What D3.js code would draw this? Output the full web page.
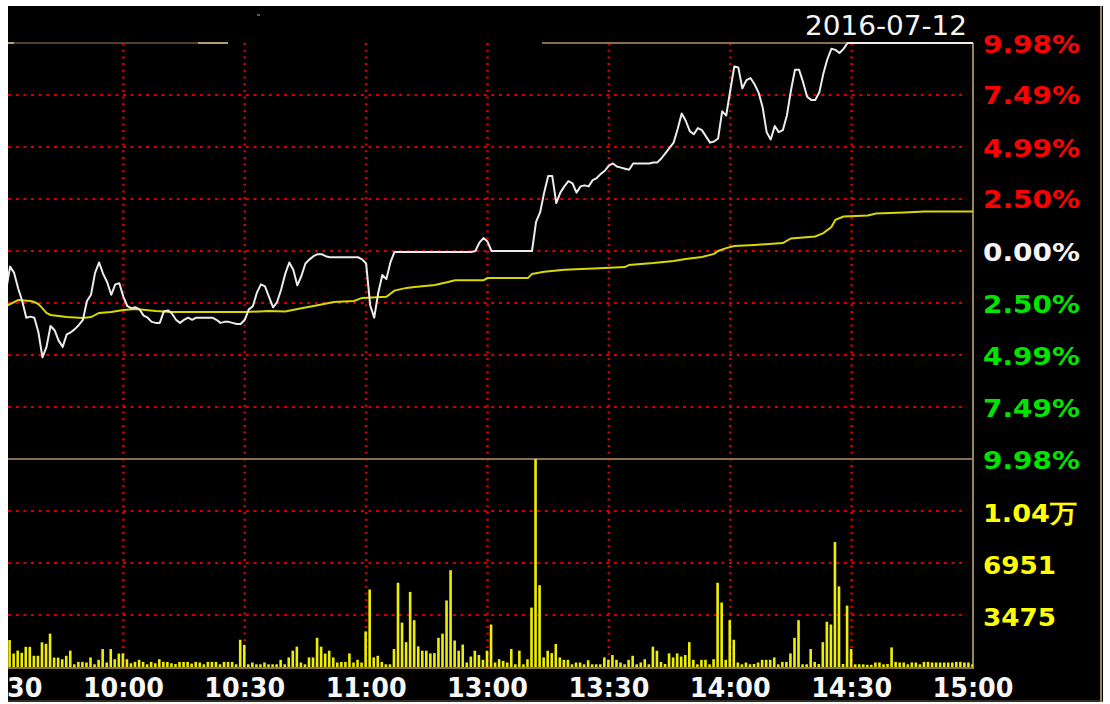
<!DOCTYPE html>
<html>
<head>
<meta charset="utf-8">
<script src="https://cdn.jsdelivr.net/npm/d3@7"></script>
<style>
  body { margin: 0; background: #fff; }
  text { font-family: "DejaVu Sans", Verdana, sans-serif; }
</style>
</head>
<body>
<script>
// intraday chart, 2016-07-12
const W = 1110, H = 704;

const dateLabel = '2016-07-12';
const timeTicks = [0, 30, 60, 90, 120, 150, 180, 210, 240];
const timeLabels = ['09:30', '10:00', '10:30', '11:00', '13:00', '13:30', '14:00', '14:30', '15:00'];
const priceTicks = [9.98, 7.49, 4.99, 2.50, 0, -2.50, -4.99, -7.49, -9.98];
const volTicks = [10426, 6951, 3475];
const volLabels = ['1.04万', '6951', '3475'];
const volMax = 13902;

// price line, % change vs. previous close, at minute index
const priceMin = [0, 1, 2, 3, 4, 5, 6, 7, 8, 9, 10, 11, 12, 13, 14, 15, 16, 17, 18, 19, 20, 21, 22, 23, 24, 25, 26, 27, 28, 29,
  30, 31, 32, 33, 34, 35, 36, 37, 38, 39, 40, 41, 42, 43, 44, 45, 46, 47, 48, 52, 53, 54, 55, 56, 57, 58, 59,
  60, 61, 62, 63, 64, 65, 66, 67, 68, 69, 70, 71, 72, 73, 74, 75, 76, 77, 78, 79, 80, 81, 88, 89,
  90, 91, 92, 93, 94, 95, 96, 97, 116, 117, 118, 119, 120, 121, 131, 132, 133, 134, 135, 136, 137, 138, 139,
  140, 141, 142, 143, 144, 145, 146, 147, 148, 149, 150, 151, 152, 153, 154, 155, 156, 160, 161, 162, 163, 164, 165, 166, 167, 168, 169,
  170, 171, 172, 173, 174, 175, 176, 177, 178, 179, 180, 181, 182, 183, 184, 185, 186, 187, 188, 189,
  190, 191, 192, 193, 194, 195, 196, 197, 198, 199, 200, 201, 202, 203, 204, 205, 206, 207, 208, 209, 240];
const pricePct = [-1.6, -1.9, -0.75, -1.05, -1.8, -2.4, -3.2, -3.15, -3.2, -3.9, -5.1, -4.6, -3.6, -3.8, -4.3, -4.6, -4.0, -3.9, -3.75, -3.55, -3.3, -2.4, -2.1, -1.05, -0.55, -1.1, -1.5, -2.1, -1.6, -1.55,
  -2.2, -2.65, -2.75, -2.7, -2.8, -3.1, -3.2, -3.4, -3.45, -3.45, -2.9, -2.85, -3.0, -3.3, -3.45, -3.3, -3.2, -3.3, -3.2, -3.2, -3.3, -3.45, -3.4, -3.4, -3.45, -3.5, -3.5,
  -3.3, -2.8, -2.65, -2.0, -1.6, -1.7, -2.2, -2.7, -2.45, -1.85, -1.1, -0.55, -0.9, -1.65, -1.2, -0.6, -0.4, -0.25, -0.15, -0.15, -0.25, -0.3, -0.3, -0.4,
  -0.6, -2.6, -3.2, -2.0, -1.15, -1.35, -0.55, -0.05, -0.05, 0.0, 0.4, 0.62, 0.45, 0.0, 0.0, 1.4, 1.85, 2.8, 3.6, 3.6, 2.3, 2.8, 3.1,
  3.35, 3.25, 2.8, 3.1, 3.15, 3.1, 3.4, 3.5, 3.7, 3.85, 4.1, 4.2, 4.05, 4.0, 3.95, 3.9, 4.2, 4.2, 4.25, 4.25, 4.45, 4.7, 4.95, 5.2, 5.85, 6.6, 6.25,
  5.75, 5.6, 5.9, 5.8, 5.5, 5.2, 5.25, 5.4, 6.7, 6.5, 7.7, 8.85, 8.8, 7.8, 8.2, 8.3, 8.0, 7.6, 6.9, 5.7,
  5.35, 6.0, 5.7, 5.8, 6.5, 7.7, 8.7, 8.7, 8.1, 7.4, 7.25, 7.25, 7.6, 8.5, 9.2, 9.7, 9.65, 9.5, 9.7, 9.98, 9.98];

// average price line
const avgMin = [0, 1, 3, 4, 7, 8, 9, 10, 11, 12, 14, 16, 20, 22, 24, 27, 30, 33, 38, 42, 60, 66, 70, 74, 78, 82, 87, 89,
  95, 97, 100, 102, 107, 110, 112, 119, 120, 130, 131, 134, 139, 149, 154, 155, 161, 166, 169, 173, 176, 177, 179,
  181, 186, 193, 195, 201, 203, 205, 206, 208, 214, 216, 223, 228, 240];
const avgPct = [-2.75, -2.65, -2.45, -2.35, -2.4, -2.45, -2.55, -2.75, -2.97, -3.07, -3.12, -3.17, -3.22, -3.17, -2.97, -2.93, -2.83, -2.78, -2.88, -2.93, -2.93, -2.88, -2.9, -2.75, -2.6, -2.45, -2.4, -2.25,
  -2.2, -1.9, -1.77, -1.73, -1.63, -1.5, -1.4, -1.4, -1.3, -1.3, -1.1, -1.0, -0.9, -0.82, -0.77, -0.67, -0.58, -0.48, -0.38, -0.29, -0.14, 0.0, 0.14,
  0.24, 0.29, 0.38, 0.6, 0.7, 0.86, 1.15, 1.5, 1.65, 1.7, 1.8, 1.85, 1.9, 1.9];

// volume per minute (shares), minute 0..240
const volume = [1500, 1100, 1800, 900, 1100, 950, 1350, 1350, 750, 750, 1650, 1550, 2230, 630, 630, 520, 750, 1090, 180, 340,
  340, 300, 640, 180, 480, 1200, 300, 1200, 520, 900, 900, 520, 250, 340, 480, 340, 180, 340, 250, 520,
  340, 340, 250, 200, 340, 340, 340, 230, 340, 300, 180, 340, 340, 340, 180, 340, 340, 340, 180, 1820,
  1480, 180, 300, 180, 180, 300, 180, 180, 180, 480, 180, 640, 1090, 1360, 300, 180, 640, 640, 1950, 1360,
  900, 1090, 640, 300, 340, 340, 910, 300, 480, 300, 2380, 5180, 640, 750, 340, 180, 180, 1200, 5630, 2970,
  1660, 5020, 3130, 1380, 1090, 1090, 910, 930, 1950, 2230, 4450, 6470, 1770, 1090, 1500, 300, 700, 1090, 800, 480,
  1090, 2840, 300, 520, 410, 300, 1200, 180, 1090, 180, 520, 3970, 13900, 5470, 640, 1090, 930, 1540, 640, 480,
  480, 180, 300, 300, 180, 450, 180, 180, 180, 640, 480, 800, 480, 300, 180, 480, 750, 180, 300, 520,
  180, 1360, 1090, 340, 200, 910, 640, 910, 700, 800, 1660, 480, 180, 480, 480, 180, 520, 5630, 4310, 480,
  3130, 1820, 300, 180, 300, 180, 200, 300, 480, 480, 480, 640, 180, 340, 340, 910, 1950, 3130, 180, 180,
  1200, 340, 200, 1660, 3020, 2840, 8350, 5390, 200, 4100, 1200, 180, 180, 180, 150, 150, 300, 300, 180, 200,
  1310, 340, 300, 300, 180, 300, 300, 180, 340, 340, 300, 300, 300, 300, 300, 300, 340, 340, 300, 300, 180];

// plot frame
const pL = 8, pR = 973, pT = 43, pM = 459, pB = 667;
const brown = '#84704f';

const x = d3.scaleLinear().domain([0, 240]).range([2, pR]);
const yP = d3.scaleLinear().domain([-9.98, 9.98]).range([pM, pT]);
const yV = d3.scaleLinear().domain([0, volMax]).range([pB, pM]);

const svg = d3.select('body').append('svg').attr('width', W).attr('height', H);

svg.append('rect').attr('width', W).attr('height', H).attr('fill', '#fff');
svg.append('rect').attr('x', 8).attr('y', 6).attr('width', 1095).attr('height', 696).attr('fill', '#000');

svg.append('clipPath').attr('id', 'plot')
  .append('rect').attr('x', pL).attr('y', 38).attr('width', pR - pL).attr('height', pB - 38 + 2);

// grid
const grid = svg.append('g').attr('clip-path', 'url(#plot)');
grid.selectAll('.vg')
  .data(timeTicks.slice(1, -1))
  .join('line')
  .attr('x1', d => x(d)).attr('x2', d => x(d))
  .attr('y1', pT).attr('y2', pB)
  .attr('stroke', '#d40000').attr('stroke-width', 2.6)
  .attr('stroke-dasharray', '2 4.7');

grid.selectAll('.hg')
  .data(priceTicks.filter(d => Math.abs(d) < 9.9))
  .join('line')
  .attr('x1', pL).attr('x2', pR - 6)
  .attr('y1', d => yP(d)).attr('y2', d => yP(d))
  .attr('stroke', '#d40000').attr('stroke-width', 2)
  .attr('stroke-dasharray', '3 4.67');

grid.selectAll('.vhg')
  .data(volTicks)
  .join('line')
  .attr('x1', pL).attr('x2', pR - 6)
  .attr('y1', d => yV(d)).attr('y2', d => yV(d))
  .attr('stroke', '#d40000').attr('stroke-width', 2)
  .attr('stroke-dasharray', '3 4.67');

// frame lines
const frame = svg.append('g').attr('stroke', brown).attr('stroke-width', 2);
frame.append('line').attr('x1', pL).attr('x2', 228).attr('y1', pT).attr('y2', pT).attr('stroke', '#4d4030');
frame.append('line').attr('x1', 198).attr('x2', 228).attr('y1', pT).attr('y2', pT).attr('stroke', '#b49e7a');
frame.append('line').attr('x1', pL).attr('x2', 14).attr('y1', pT).attr('y2', pT).attr('stroke', '#b49e7a');
frame.append('line').attr('x1', 542).attr('x2', pR).attr('y1', pT).attr('y2', pT);
frame.append('line').attr('x1', pL).attr('x2', pR).attr('y1', pM).attr('y2', pM);
frame.append('line').attr('x1', pL).attr('x2', pR).attr('y1', pB + 1).attr('y2', pB + 1);
frame.append('line').attr('x1', pR).attr('x2', pR).attr('y1', pT).attr('y2', pB + 2).attr('stroke', '#98845f');
frame.append('line').attr('x1', 1101).attr('x2', 1101).attr('y1', 6).attr('y2', 702).attr('stroke', '#98845f');
frame.append('line').attr('x1', pL).attr('x2', 1103).attr('y1', 701).attr('y2', 701).attr('stroke', '#6b5c45').attr('stroke-width', 1);
svg.append('rect').attr('x', 257).attr('y', 14).attr('width', 3).attr('height', 2).attr('fill', '#6b5437');

const plot = svg.append('g').attr('clip-path', 'url(#plot)');

// volume bars
plot.selectAll('.bar')
  .data(volume)
  .join('rect')
  .attr('x', (d, i) => x(i) - 1.8)
  .attr('width', 2.6)
  .attr('y', d => yV(d))
  .attr('height', d => pB - yV(d))
  .attr('fill', '#eeee00');

// average line
const avgData = avgMin.map((m, i) => [m, avgPct[i]]);
plot.append('path')
  .datum(avgData)
  .attr('fill', 'none')
  .attr('stroke', '#d8d800')
  .attr('stroke-width', 2)
  .attr('d', d3.line().x(d => x(d[0])).y(d => yP(d[1])));

// price line
const priceData = priceMin.map((m, i) => [m, pricePct[i]]);
plot.append('path')
  .datum(priceData)
  .attr('fill', 'none')
  .attr('stroke', '#ececec')
  .attr('stroke-width', 2)
  .attr('stroke-linejoin', 'round')
  .attr('d', d3.line().x(d => x(d[0])).y(d => yP(d[1])));

// right labels
svg.selectAll('.plab')
  .data(priceTicks)
  .join('text')
  .attr('x', 983)
  .attr('y', d => yP(d) + 9.5)
  .attr('font-size', 25)
  .attr('font-weight', 'bold')
  .attr('textLength', 97)
  .attr('lengthAdjust', 'spacingAndGlyphs')
  .attr('fill', d => d > 0 ? '#ff0000' : d < 0 ? '#00e400' : '#f4f4f4')
  .text(d => Math.abs(d).toFixed(2) + '%');

svg.selectAll('.vlab')
  .data(volTicks)
  .join('text')
  .attr('x', 983)
  .attr('y', d => yV(d) + 11)
  .attr('font-size', 25)
  .attr('font-weight', 'bold')
  .attr('textLength', (d, i) => i === 0 ? 94 : 73)
  .attr('lengthAdjust', 'spacingAndGlyphs')
  .attr('fill', '#ffff00')
  .text((d, i) => volLabels[i]);

// time labels
const tclip = svg.append('clipPath').attr('id', 'tclip');
tclip.append('rect').attr('x', pL).attr('y', 670).attr('width', 1090).attr('height', 34);
svg.append('g').attr('clip-path', 'url(#tclip)')
  .selectAll('text')
  .data(timeTicks)
  .join('text')
  .attr('x', d => x(d))
  .attr('y', 697)
  .attr('text-anchor', 'middle')
  .attr('font-size', 26)
  .attr('font-weight', 'bold')
  .attr('textLength', 81)
  .attr('lengthAdjust', 'spacingAndGlyphs')
  .attr('fill', '#f6f6f6')
  .text((d, i) => timeLabels[i]);

svg.append('text')
  .attr('x', 967)
  .attr('y', 35)
  .attr('text-anchor', 'end')
  .attr('font-size', 27)
  .attr('textLength', 162)
  .attr('lengthAdjust', 'spacingAndGlyphs')
  .attr('fill', '#f4f4f4')
  .text(dateLabel);
</script>
</body>
</html>
